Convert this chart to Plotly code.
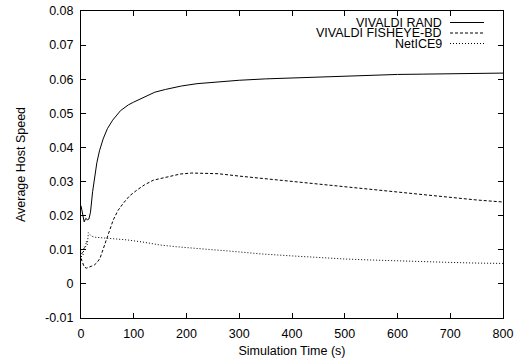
import plotly.graph_objects as go

rand_x = [0,3,6,9,12,15,18,22,26,30,35,42,50,60,75,90,100,120,140,160,190,220,260,300,350,400,450,500,550,600,650,700,750,800]
rand_y = [0.0229,0.0205,0.0182,0.0192,0.0188,0.0190,0.0210,0.0270,0.0320,0.0355,0.0390,0.0425,0.0455,0.0480,0.0508,0.0525,0.0533,0.0548,0.0562,0.0570,0.0580,0.0587,0.0592,0.0597,0.0601,0.0604,0.0607,0.0609,0.0612,0.0614,0.0615,0.0616,0.0617,0.0618]

fish_x = [0,3,6,10,15,20,25,30,36,42,49,55,61,70,80,92,106,120,137,160,188,210,230,260,300,350,400,450,500,550,600,650,700,750,800]
fish_y = [0.0075,0.0060,0.0050,0.0046,0.0050,0.0052,0.0055,0.0062,0.0075,0.0100,0.0129,0.0160,0.0187,0.0215,0.0236,0.0258,0.0275,0.0290,0.0304,0.0313,0.0322,0.0325,0.0325,0.0323,0.0316,0.0308,0.0300,0.0292,0.0284,0.0276,0.0268,0.0260,0.0253,0.0246,0.0240]

ice_x = [0,2,4,6,8,10,12,14,17,20,25,35,49,70,87,120,150,180,213,250,276,310,340,400,450,500,550,600,650,700,750,800]
ice_y = [0.0070,0.0095,0.0085,0.0110,0.0100,0.0125,0.0115,0.0150,0.0145,0.0140,0.0137,0.0136,0.0134,0.0131,0.0129,0.0122,0.0114,0.0109,0.0104,0.0100,0.0097,0.0092,0.0088,0.0082,0.0077,0.0073,0.0070,0.0067,0.0065,0.0063,0.0061,0.0060]

names = ["VIVALDI RAND", "VIVALDI FISHEYE-BD", "NetICE9"]
dashes = ["solid", "3px,2px", "1px,2px"]
series = [(rand_x, rand_y), (fish_x, fish_y), (ice_x, ice_y)]

x_ticks = [0,100,200,300,400,500,600,700,800]
y_ticks = [-0.01,0,0.01,0.02,0.03,0.04,0.05,0.06,0.07,0.08]
y_labels = ["-0.01","0","0.01","0.02","0.03","0.04","0.05","0.06","0.07","0.08"]

FONT = "Liberation Sans, Arial, sans-serif"
FS = 12.5
fig = go.Figure()
for (xs, ys), n, d in zip(series, names, dashes):
    fig.add_trace(go.Scatter(x=xs, y=ys, mode="lines", name=n, showlegend=False,
                             line=dict(color="black", width=1, dash=d)))

W, H = 520, 361
L, R, T, B = 81, 17, 11, 43
pw, ph = W - L - R, H - T - B
# manual gnuplot-style legend (text left of sample)
rows_y = [22.5, 33, 43.5]
text_right = 443
s0, s1 = 450, 484
for n, d, yy in zip(names, dashes, rows_y):
    py = 1 - (yy - T) / ph
    fig.add_annotation(x=(text_right - L) / pw, y=py, xref="paper", yref="paper",
                       text=n, showarrow=False, xanchor="right", yanchor="middle",
                       height=10, borderpad=0,
                       font=dict(family=FONT, size=FS, color="black"))
    fig.add_shape(type="line", xref="paper", yref="paper",
                  x0=(s0 - L) / pw, x1=(s1 - L) / pw, y0=py, y1=py,
                  line=dict(color="black", width=1, dash=d))

axis_common = dict(showgrid=False, zeroline=False, showline=True, linecolor="black",
                   linewidth=1, mirror="ticks", ticks="inside", ticklen=5, automargin=False,
                   tickcolor="black", tickfont=dict(family=FONT, size=FS, color="black"))
fig.update_layout(
    width=W, height=H, margin=dict(l=L, r=R, t=T, b=B),
    plot_bgcolor="white", paper_bgcolor="white",
    font=dict(family=FONT, size=FS, color="black"),
    xaxis=dict(range=[0, 800], tickvals=x_ticks, ticktext=[str(v) for v in x_ticks],
               ticklabelstandoff=4,
               title=dict(text="Simulation Time (s)", standoff=6,
                          font=dict(family=FONT, size=FS)), **axis_common),
    yaxis=dict(range=[-0.01, 0.08], tickvals=y_ticks, ticktext=y_labels,
               ticklabelstandoff=4,
               title=dict(text="Average Host Speed", standoff=16,
                          font=dict(family=FONT, size=FS)), **axis_common),
)
fig.write_html("out.html")
